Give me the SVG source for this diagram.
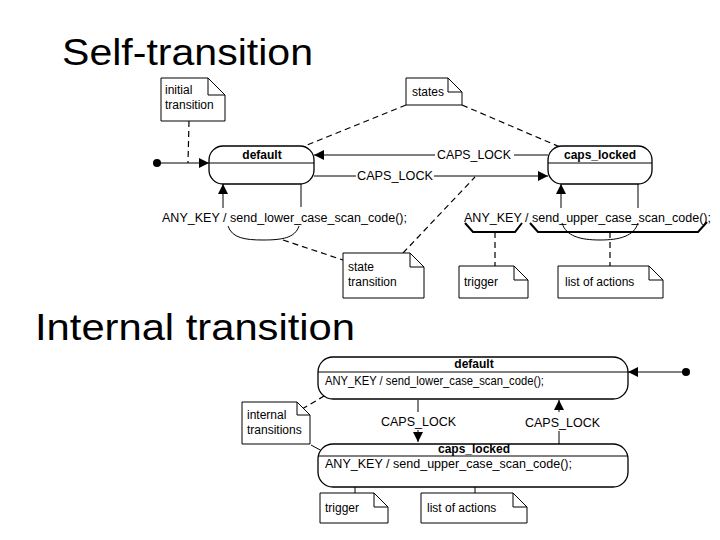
<svg xmlns="http://www.w3.org/2000/svg" width="720" height="540" viewBox="0 0 720 540">
<style>
.title{font-family:"Liberation Sans",Arial,sans-serif;font-size:36px;fill:#000}
.t{font-family:"Liberation Sans",Arial,sans-serif;font-size:12px;fill:#000}
.b{font-family:"Liberation Sans",Arial,sans-serif;font-size:12px;font-weight:bold;fill:#000}
.st{fill:#fff;stroke:#000;stroke-width:1.3}
.note{fill:#fff;stroke:#000;stroke-width:1}
.ln{fill:none;stroke:#000;stroke-width:1}
.dash{fill:none;stroke:#000;stroke-width:1.2;stroke-dasharray:6,4}
.brace{fill:none;stroke:#000;stroke-width:2}
</style>
<defs>
<marker id="arr" viewBox="0 0 10 10" refX="10" refY="5" markerWidth="10" markerHeight="10" markerUnits="userSpaceOnUse" orient="auto">
<path d="M0,0 L10,5 L0,10 Z" fill="#000"/>
</marker>
</defs>
<rect width="720" height="540" fill="#fff"/>
<text class="title" x="62" y="65" textLength="251" lengthAdjust="spacingAndGlyphs">Self-transition</text>
<text class="title" x="35" y="340" textLength="320" lengthAdjust="spacingAndGlyphs">Internal transition</text>

<g id="connectors">
<!-- top diagram -->
<circle cx="157" cy="163" r="4" fill="#000"/>
<line class="ln" x1="157" y1="163" x2="209" y2="163" marker-end="url(#arr)"/>
<line class="dash" x1="189" y1="121" x2="188" y2="163"/>
<line class="ln" x1="548" y1="155" x2="514" y2="155"/>
<line class="ln" x1="435" y1="155" x2="314" y2="155" marker-end="url(#arr)"/>
<line class="ln" x1="314" y1="176" x2="356" y2="176"/>
<line class="ln" x1="434" y1="176" x2="548" y2="176" marker-end="url(#arr)"/>
<line class="dash" x1="406" y1="105" x2="302" y2="147"/>
<line class="dash" x1="462" y1="105" x2="560" y2="147"/>
<!-- default self-transition -->
<line class="ln" x1="301" y1="184" x2="301" y2="207"/>
<line class="ln" x1="223" y1="208" x2="223" y2="184" marker-end="url(#arr)"/>
<path class="ln" d="M228,226 C232,238 245,240 263,240 C282,240 295,238 299,226"/>
<line class="dash" x1="283" y1="240" x2="343" y2="260"/>
<line class="dash" x1="403" y1="253" x2="475" y2="177"/>
<!-- caps_locked self-transition -->
<line class="ln" x1="638" y1="184" x2="638" y2="208"/>
<line class="ln" x1="561" y1="208" x2="561" y2="184" marker-end="url(#arr)"/>
<path class="ln" d="M562,223 C566,236 580,240 600,240 C620,240 634,236 638,223"/>
<path class="brace" d="M465,223 L473,232 L515,232 L522,223"/>
<path class="brace" d="M530,223 L538,232 L698,232 L707,222"/>
<line class="dash" x1="495" y1="232" x2="495" y2="266"/>
<line class="dash" x1="610" y1="232" x2="610" y2="266"/>
<!-- bottom diagram -->
<circle cx="686" cy="372" r="4" fill="#000"/>
<line class="ln" x1="686" y1="372" x2="628" y2="372" marker-end="url(#arr)"/>
<line class="ln" x1="418" y1="400" x2="418" y2="412"/>
<line class="ln" x1="418" y1="430" x2="418" y2="442" marker-end="url(#arr)"/>
<line class="ln" x1="559" y1="444" x2="559" y2="431"/>
<line class="ln" x1="559" y1="412" x2="559" y2="400" marker-end="url(#arr)"/>
<line class="dash" x1="302" y1="409" x2="331" y2="392"/>
<line class="ln" x1="311" y1="445" x2="322" y2="451"/>
<path class="brace" d="M328,472 L335,478 L377,478 L382,472"/>
<path class="brace" d="M387,472 L396,478 L562,478 L570,470"/>
<line class="ln" x1="355" y1="478" x2="355" y2="493"/>
<line class="ln" x1="475" y1="478" x2="475" y2="493"/>
</g>

<g id="label-top-default">
<text class="t" x="162" y="222" textLength="245" lengthAdjust="spacingAndGlyphs">ANY_KEY / send_lower_case_scan_code();</text>
</g>
<g id="label-top-caps">
<text class="t" x="464" y="222" textLength="247" lengthAdjust="spacingAndGlyphs">ANY_KEY / send_upper_case_scan_code();</text>
</g>
<g id="label-caps1">
<text class="t" x="437" y="159" textLength="74" lengthAdjust="spacingAndGlyphs">CAPS_LOCK</text>
</g>
<g id="label-caps2">
<text class="t" x="357" y="180" textLength="76" lengthAdjust="spacingAndGlyphs">CAPS_LOCK</text>
</g>

<g id="state-default-top">
<rect class="st" x="209" y="146" width="105" height="38" rx="14"/>
<line class="ln" x1="209" y1="163" x2="314" y2="163"/>
<text class="b" x="262" y="159" text-anchor="middle">default</text>
</g>
<g id="state-caps-top">
<rect class="st" x="548" y="146" width="104" height="38" rx="14"/>
<line class="ln" x1="548" y1="163" x2="652" y2="163"/>
<text class="b" x="600" y="159" text-anchor="middle">caps_locked</text>
</g>

<g id="note-initial">
<path class="note" d="M161,78 L208,78 L225,95 L225,121 L161,121 Z"/>
<path class="ln" d="M208,78 L208,95 L225,95"/>
<text class="t" x="165" y="94" font-size="11">initial</text>
<text class="t" x="165" y="109" font-size="11">transition</text>
</g>
<g id="note-states">
<path class="note" d="M406,78 L448,78 L462,92 L462,105 L406,105 Z"/>
<path class="ln" d="M448,78 L448,92 L462,92"/>
<text class="t" x="412" y="96">states</text>
</g>
<g id="note-state-transition">
<path class="note" d="M343,253 L410,253 L424,267 L424,298 L343,298 Z"/>
<path class="ln" d="M410,253 L410,267 L424,267"/>
<text class="t" x="348" y="271">state</text>
<text class="t" x="348" y="286">transition</text>
</g>
<g id="note-trigger-top">
<path class="note" d="M459,266 L514,266 L528,280 L528,298 L459,298 Z"/>
<path class="ln" d="M514,266 L514,280 L528,280"/>
<text class="t" x="464" y="286">trigger</text>
</g>
<g id="note-actions-top">
<path class="note" d="M558,266 L649,266 L663,280 L663,298 L558,298 Z"/>
<path class="ln" d="M649,266 L649,280 L663,280"/>
<text class="t" x="565" y="286">list of actions</text>
</g>

<!-- bottom diagram -->
<g id="state-default-bottom">
<rect class="st" x="318" y="357" width="310" height="42" rx="15"/>
<line class="ln" x1="318" y1="372" x2="628" y2="372"/>
<text class="b" x="474" y="368" text-anchor="middle">default</text>
<text class="t" x="325" y="385" textLength="219" lengthAdjust="spacingAndGlyphs">ANY_KEY / send_lower_case_scan_code();</text>
</g>
<g id="state-caps-bottom">
<rect class="st" x="318" y="444" width="310" height="43" rx="15"/>
<line class="ln" x1="318" y1="456" x2="628" y2="456"/>
<text class="b" x="474" y="453" text-anchor="middle">caps_locked</text>
<text class="t" x="325" y="468" textLength="247" lengthAdjust="spacingAndGlyphs">ANY_KEY / send_upper_case_scan_code();</text>
</g>
<g id="label-bottom-caps-down">
<text class="t" x="381" y="426" textLength="75" lengthAdjust="spacingAndGlyphs">CAPS_LOCK</text>
</g>
<g id="label-bottom-caps-up">
<text class="t" x="525" y="427" textLength="75" lengthAdjust="spacingAndGlyphs">CAPS_LOCK</text>
</g>
<g id="note-internal">
<path class="note" d="M242,402 L297,402 L310,415 L310,444 L242,444 Z"/>
<path class="ln" d="M297,402 L297,415 L310,415"/>
<text class="t" x="247" y="419" font-size="11">internal</text>
<text class="t" x="247" y="434" font-size="11">transitions</text>
</g>
<g id="note-trigger-bottom">
<path class="note" d="M320,493 L374,493 L388,507 L388,523 L320,523 Z"/>
<path class="ln" d="M374,493 L374,507 L388,507"/>
<text class="t" x="325" y="512">trigger</text>
</g>
<g id="note-actions-bottom">
<path class="note" d="M421,493 L513,493 L527,507 L527,523 L421,523 Z"/>
<path class="ln" d="M513,493 L513,507 L527,507"/>
<text class="t" x="427" y="512">list of actions</text>
</g>
</svg>
